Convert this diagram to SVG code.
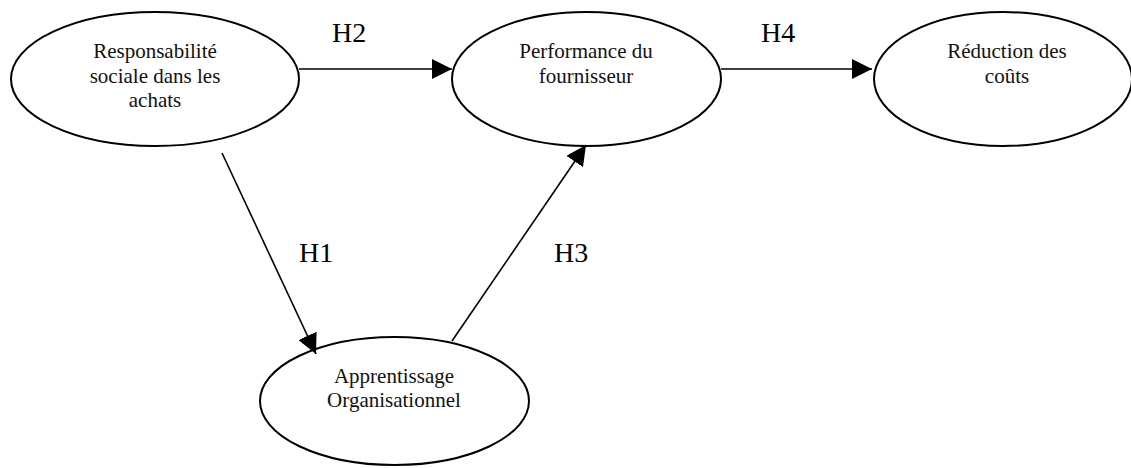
<svg xmlns="http://www.w3.org/2000/svg" width="1131" height="468" viewBox="0 0 1131 468">
<style>
.node{fill:#fff;stroke:#000;stroke-width:2}
.t{font-family:"Liberation Serif","Times New Roman",serif;font-size:21px;fill:#111;text-anchor:middle}
.h{font-family:"Liberation Serif","Times New Roman",serif;font-size:28px;fill:#000}
.c{stroke:#000;stroke-width:1.6;fill:none;marker-end:url(#ah)}
</style>
<defs>
<marker id="ah" markerUnits="userSpaceOnUse" markerWidth="20" markerHeight="20" refX="20" refY="10" orient="auto" viewBox="0 0 20 20">
<path d="M0,0 L20,10 L0,20 z" fill="#000"/>
</marker>
</defs>
<rect width="1131" height="468" fill="#fff"/>
<g id="n1">
<ellipse class="node" cx="155" cy="79" rx="144" ry="67"/>
<text class="t" x="155" y="58">Responsabilité</text>
<text class="t" x="155" y="82.5">sociale dans les</text>
<text class="t" x="155" y="107">achats</text>
</g>
<g id="n2">
<ellipse class="node" cx="586.5" cy="79" rx="134.5" ry="67"/>
<text class="t" x="586" y="58">Performance du</text>
<text class="t" x="586" y="82.5">fournisseur</text>
</g>
<g id="n3">
<ellipse class="node" cx="1003" cy="79" rx="129" ry="67"/>
<text class="t" x="1007" y="58">Réduction des</text>
<text class="t" x="1007" y="82.5">coûts</text>
</g>
<g id="n4">
<ellipse class="node" cx="394.5" cy="401" rx="134.5" ry="64"/>
<text class="t" x="394" y="382.5">Apprentissage</text>
<text class="t" x="394" y="406.5">Organisationnel</text>
</g>
<g id="connectors">
<line class="c" x1="299" y1="69" x2="452" y2="69"/>
<line class="c" x1="721" y1="69" x2="872" y2="69"/>
<line class="c" x1="222" y1="153" x2="316" y2="354"/>
<line class="c" x1="452" y1="341" x2="586" y2="145"/>
</g>
<g id="labels">
<text class="h" x="332" y="42">H2</text>
<text class="h" x="761" y="42">H4</text>
<text class="h" x="299" y="262">H1</text>
<text class="h" x="554" y="262">H3</text>
</g>
</svg>
